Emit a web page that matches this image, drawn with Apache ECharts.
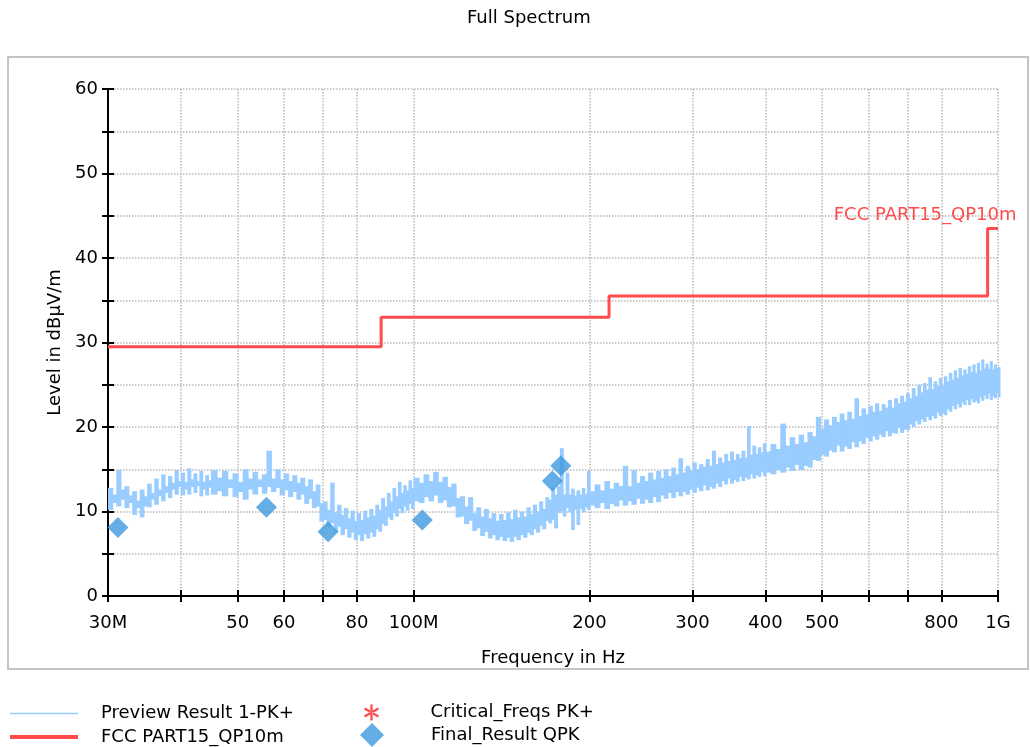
<!DOCTYPE html>
<html>
<head>
<meta charset="utf-8">
<script src="https://cdn.jsdelivr.net/npm/echarts@6/dist/echarts.min.js"></script>
<style>
  html, body { margin: 0; padding: 0; background: #ffffff; }
  #chart { width: 1030px; height: 747px; }
</style>
</head>
<body>
<div id="chart"></div>
<script>
// Peak preview scan: frequency (MHz) with the max / min level (dBµV/m) in each bin
const spectrumMHz = [
  30, 30.5, 31, 31.5, 32, 32.5, 33, 33.5, 34, 34.5, 35, 35.5, 36, 36.5, 37, 37.5, 38, 38.5, 39, 39.5,
  40, 40.5, 41, 41.5, 42, 42.5, 43, 43.5, 44, 44.5, 45,
  46, 47, 48, 49, 50, 51, 52, 53, 54, 55, 56, 57, 58, 59, 60, 61, 62, 63, 64, 65, 66, 67, 68, 69, 70,
  71, 72, 73, 74, 75, 76, 77, 78, 79, 80, 81, 82, 83, 84, 85, 86, 87, 88, 89, 90,
  91, 92, 93, 94, 95, 96, 97, 98, 99, 100,
  102, 104, 106, 108, 110, 112, 114, 116, 118, 120, 122, 124, 126, 128, 130, 132, 134, 136, 138, 140,
  142, 144, 146, 148, 150, 152, 154, 156, 158, 160, 162, 164, 166, 168, 170, 172, 174, 176, 178, 180,
  182, 184, 186, 188, 190, 192, 194, 196, 198, 200,
  204, 208, 212, 216, 220, 224, 228, 232, 236, 240, 244, 248, 252, 256, 260, 264, 268, 272, 276, 280,
  284, 288, 292, 296, 300, 304, 308, 312, 316, 320, 324, 328, 332, 336, 340, 344, 348, 352, 356, 360,
  364, 368, 372, 376, 380, 384, 388, 392, 396, 400,
  408, 416, 424, 432, 440, 448, 456, 464, 472, 480, 488, 496, 504, 512, 520, 528, 536, 544, 552, 560,
  568, 576, 584, 592, 600, 608, 616, 624, 632, 640, 648, 656, 664, 672, 680, 688, 696, 704, 712, 720,
  728, 736, 744, 752, 760, 768, 776, 784, 792, 800, 808, 816, 824, 832, 840, 848, 856, 864, 872, 880,
  888, 896, 904, 912, 920, 928, 936, 944, 952, 960, 968, 976, 984, 992, 1000
];
const spectrumMax = [
  12.8, 12.0, 14.9, 12.6, 13.0, 11.9, 12.4, 11.3, 12.6, 11.8, 13.3, 12.2, 13.9, 12.6, 14.4, 13.0, 14.2, 13.4, 14.9, 13.6,
  14.6, 13.5, 15.1, 13.8, 14.5, 13.6, 14.8, 13.5, 14.3, 13.7, 14.9,
  14.0, 14.8, 13.8, 14.5, 13.5, 15.0, 13.9, 14.7, 13.8, 14.4, 17.2, 13.9, 15.0, 13.8, 14.5, 13.6, 14.3, 13.4, 14.0, 13.0, 13.8, 12.4, 13.2, 11.0, 11.2,
  10.2, 13.4, 9.9, 10.8, 9.6, 10.4, 9.2, 10.1, 8.9, 9.8, 9.0, 10.1, 9.3, 10.3, 9.5, 10.8, 10.2, 11.6, 10.6, 12.2,
  11.2, 12.8, 11.8, 13.5, 12.2, 13.1, 12.5, 13.7, 12.8, 14.0,
  13.4, 14.4, 13.6, 14.7, 13.5, 14.1, 12.9, 13.3, 11.6, 11.8, 10.6, 11.7, 9.8, 10.5, 9.4, 10.3, 9.2, 9.8, 8.9, 9.7,
  9.0, 9.9, 9.1, 10.2, 9.3, 10.0, 9.4, 10.5, 9.7, 10.8, 10.0, 11.2, 10.3, 11.7, 11.4, 12.8, 12.0, 13.0, 17.5, 12.0,
  14.6, 12.0, 12.7, 11.9, 12.5, 12.0, 12.8, 12.1, 14.8, 12.4,
  13.2, 12.5, 13.6, 12.7, 13.4, 13.0, 15.4, 13.0, 14.9, 13.4, 14.2, 13.6, 14.6, 13.8, 14.8, 14.0, 15.0, 14.2, 15.2, 14.4,
  16.3, 14.6, 15.4, 14.8, 15.8, 15.0, 15.6, 15.3, 16.2, 15.4, 17.2, 15.6, 16.4, 15.8, 16.8, 16.0, 17.1, 16.1, 16.8, 16.3,
  17.2, 16.4, 20.1, 16.7, 17.8, 16.8, 17.6, 17.0, 18.1, 17.1,
  18.0, 17.4, 20.4, 17.8, 18.8, 18.0, 19.1, 18.2, 19.4, 18.9, 21.2, 19.8, 20.9, 20.2, 21.2, 20.6, 21.6, 20.8, 21.8, 21.0,
  23.4, 21.3, 22.2, 21.5, 22.5, 21.8, 22.8, 21.9, 22.7, 22.3, 23.2, 22.3, 23.4, 22.8, 23.7, 23.0, 24.0, 23.4, 24.6, 23.7,
  25.0, 24.1, 25.2, 24.4, 25.9, 24.5, 25.4, 24.9, 25.8, 24.9, 26.0, 25.4, 26.4, 25.6, 26.7, 25.8, 27.0, 26.1, 26.8, 26.3,
  27.2, 26.5, 27.4, 26.4, 27.6, 26.7, 28.0, 26.9, 27.5, 26.9, 27.8, 26.8, 27.4, 26.9, 27.1
];
const spectrumMin = [
  10.2, 11.0, 10.6, 11.4, 10.4, 11.0, 9.6, 10.4, 9.3, 10.6, 10.5, 11.4, 10.8, 11.8, 11.2, 12.2, 11.6, 12.6, 12.0, 12.9,
  11.9, 12.6, 12.0, 12.9, 12.2, 13.0, 11.8, 12.6, 11.9, 12.8, 12.0,
  12.4, 11.8, 12.8, 11.7, 12.3, 11.4, 12.6, 12.0, 12.9, 12.1, 12.9, 12.3, 12.8, 11.9, 12.5, 11.7, 12.3, 11.4, 12.0, 10.9, 11.5, 10.4, 10.6, 8.8, 9.0,
  8.2, 8.6, 7.6, 8.2, 7.2, 7.9, 6.9, 7.5, 6.6, 7.2, 6.5, 7.3, 6.8, 7.5, 7.0, 7.9, 7.6, 8.5, 8.3, 9.3,
  9.0, 9.8, 9.4, 10.3, 9.8, 10.6, 10.1, 10.9, 10.3, 11.2,
  11.0, 11.7, 11.2, 11.9, 11.0, 11.3, 10.5, 10.6, 9.3, 9.4, 8.5, 8.9, 7.7, 8.0, 7.1, 7.6, 6.8, 7.2, 6.6, 7.0,
  6.5, 6.9, 6.4, 7.0, 6.6, 7.2, 6.9, 7.5, 7.2, 7.9, 7.5, 8.3, 7.9, 8.9, 8.6, 9.0, 8.0, 9.8, 10.0, 9.4,
  10.4, 9.9, 7.8, 10.2, 8.4, 10.3, 9.9, 10.5, 10.2, 10.7,
  10.4, 11.0, 10.3, 10.9, 10.6, 11.3, 10.7, 11.2, 10.8, 11.5, 10.9, 11.4, 11.0, 11.7, 11.1, 11.9, 11.5, 12.2, 11.6, 12.3,
  11.8, 12.3, 12.0, 12.6, 12.2, 12.8, 12.4, 13.1, 12.5, 12.9, 12.7, 13.3, 12.9, 13.6, 13.2, 13.9, 13.3, 13.7, 13.5, 14.1,
  13.6, 14.0, 13.8, 14.4, 13.9, 14.3, 14.1, 14.7, 14.2, 14.6,
  14.4, 14.9, 14.6, 15.2, 14.8, 15.5, 14.9, 15.4, 15.2, 16.1, 16.0, 16.7, 16.5, 17.2, 17.0, 17.8, 17.1, 17.7, 17.4, 18.2,
  17.6, 18.3, 18.0, 18.7, 18.3, 18.9, 18.5, 19.1, 18.8, 19.5, 18.9, 19.3, 19.2, 19.9, 19.3, 19.7, 19.6, 20.3, 20.0, 20.7,
  20.3, 20.9, 20.6, 21.2, 20.8, 21.3, 21.0, 21.7, 21.3, 21.6, 21.4, 22.1, 21.8, 22.5, 22.1, 22.7, 22.3, 22.9, 22.6, 23.2,
  22.6, 23.3, 22.9, 23.1, 22.8, 23.5, 23.1, 23.7, 23.3, 23.9, 23.2, 23.6, 23.4, 24.1, 23.5
];

// Quasi-peak limit line (step function)
const limitName = 'FCC PART15_QP10m';
const limitMHz = [30, 88, 88, 216, 216, 960, 960, 1000];
const limitLevel = [29.5, 29.5, 33.0, 33.0, 35.5, 35.5, 43.5, 43.5];

// Final quasi-peak measurements
const finalMHz = [31.2, 56.0, 71.4, 103.5, 172.8, 178.6];
const finalLevel = [8.1, 10.5, 7.6, 9.0, 13.6, 15.4];

// Critical frequencies (none recorded)
const criticalMHz = [];
const criticalLevel = [];

// Axis ticks and labels
const xTickMHz = [30, 40, 50, 60, 70, 80, 100, 200, 300, 400, 500, 600, 700, 800, 1000];
const xLabelMHz = [30, 50, 60, 80, 100, 200, 300, 400, 500, 800, 1000];
const xLabelText = { 30: '30M', 100: '100M', 1000: '1G' };
const yLabelStep = 10;

const FONT = 'DejaVu Sans';
const FS = 18;
const BLUE_TRACE = '#99ccff';
const RED_LIMIT = '#ff4b4b';
const BLUE_FINAL = '#3d99df';

const zip = (xs, ys) => xs.map((x, i) => [x, ys[i]]);

// One bin per sample: [freq, max, min, next freq]
const spectrumBins = spectrumMHz.map((f, i) => [
  f, spectrumMax[i], spectrumMin[i], spectrumMHz[Math.min(i + 1, spectrumMHz.length - 1)]
]);

const asteriskPath = 'path://M-1,-7L1,-7L1,7L-1,7Z' +
  'M5.56,4.37L6.56,2.63L-5.56,-4.37L-6.56,-2.63Z' +
  'M-5.56,4.37L-6.56,2.63L5.56,-4.37L6.56,-2.63Z';
const diamondPath = 'path://M0,-1L1,0L0,1L-1,0Z';

const gridLine = { show: true, lineStyle: { type: 'dotted', color: '#b8b8b8', width: 1.5 } };
const axisBlack = { show: true, onZero: false, lineStyle: { color: '#000', width: 2 } };
const tickBlack = { color: '#000', width: 2 };
const legendText = (padLeft) => ({ fontFamily: FONT, fontSize: FS, color: '#000', padding: [0, 0, 0, padLeft] });

const xBase = { type: 'log', logBase: 10, min: 30, max: 1000, gridIndex: 0 };
const yBase = { type: 'value', min: 0, max: 60, interval: 5, gridIndex: 0 };

const chart = echarts.init(document.getElementById('chart'), null, { renderer: 'canvas' });

chart.setOption({
  animation: false,
  backgroundColor: '#ffffff',
  textStyle: { fontFamily: FONT },
  title: {
    text: 'Full Spectrum',
    left: 462, top: 4,
    textStyle: { fontFamily: FONT, fontSize: FS, fontWeight: 'normal', color: '#000' }
  },
  graphic: [{
    type: 'rect', z: -1,
    shape: { x: 8, y: 57, width: 1020, height: 612 },
    style: { fill: 'none', stroke: '#c4c4c4', lineWidth: 2 }
  }],
  grid: { left: 108, right: 32, top: 89, bottom: 151, containLabel: false },
  xAxis: [
    Object.assign({}, xBase, {
      position: 'bottom',
      name: 'Frequency in Hz', nameLocation: 'middle', nameGap: 53,
      nameTextStyle: { fontFamily: FONT, fontSize: FS, color: '#000' },
      axisLine: axisBlack,
      axisTick: { show: true, customValues: xTickMHz, length: 6, lineStyle: tickBlack },
      axisLabel: {
        customValues: xLabelMHz, margin: 18, fontFamily: FONT, fontSize: FS, color: '#000',
        formatter: v => xLabelText[Math.round(v)] || String(Math.round(v))
      },
      splitLine: gridLine,
      minorTick: { show: false }, minorSplitLine: { show: false }
    }),
    Object.assign({}, xBase, {
      position: 'bottom',
      axisLine: { show: false },
      axisTick: { show: true, inside: true, customValues: xTickMHz, length: 6, lineStyle: tickBlack },
      axisLabel: { show: false },
      splitLine: { show: false }
    })
  ],
  yAxis: [
    Object.assign({}, yBase, {
      position: 'left',
      name: 'Level in dBµV/m', nameLocation: 'middle', nameGap: 38,
      nameTextStyle: { fontFamily: FONT, fontSize: FS, color: '#000' },
      axisLine: axisBlack,
      axisTick: { show: true, length: 6, lineStyle: tickBlack },
      axisLabel: {
        margin: 10, fontFamily: FONT, fontSize: FS, color: '#000',
        formatter: v => (v % yLabelStep === 0 ? String(v) : '')
      },
      splitLine: gridLine
    }),
    Object.assign({}, yBase, {
      position: 'left',
      axisLine: { show: false },
      axisTick: { show: true, inside: true, length: 6, lineStyle: tickBlack },
      axisLabel: { show: false },
      splitLine: { show: false }
    })
  ],
  legend: [
    {
      left: 10, top: 704.5, padding: 0, itemWidth: 68, itemHeight: 19,
      textStyle: legendText(18),
      data: [{ name: 'Preview Result 1-PK+', icon: 'path://M0,0H68V1.6H0Z' }]
    },
    {
      left: 10, top: 728, padding: 0, itemWidth: 68, itemHeight: 19,
      textStyle: legendText(18),
      data: [{ name: limitName, icon: 'path://M0,0H68V4H0Z' }]
    },
    {
      left: 364, top: 703.5, padding: 0, itemWidth: 16, itemHeight: 16,
      textStyle: legendText(46),
      data: [{ name: 'Critical_Freqs PK+', icon: asteriskPath }]
    },
    {
      left: 360, top: 723, padding: 0, itemWidth: 24, itemHeight: 24,
      textStyle: legendText(42),
      data: [{ name: 'Final_Result QPK', icon: diamondPath }]
    }
  ],
  series: [
    {
      name: 'Preview Result 1-PK+',
      type: 'custom', xAxisIndex: 0, yAxisIndex: 0,
      data: spectrumBins,
      encode: { x: [0, 3], y: [1, 2] },
      itemStyle: { color: BLUE_TRACE },
      z: 2,
      renderItem: (params, api) => {
        const top = api.coord([api.value(0), api.value(1)]);
        const bottom = api.coord([api.value(3), api.value(2)]);
        const w = Math.max(bottom[0] - top[0], 1.5);
        return {
          type: 'rect',
          shape: { x: top[0], y: top[1], width: w + 1, height: bottom[1] - top[1] },
          style: { fill: BLUE_TRACE }
        };
      }
    },
    {
      name: limitName,
      type: 'line', xAxisIndex: 0, yAxisIndex: 0,
      data: zip(limitMHz, limitLevel),
      symbol: 'none', z: 3,
      color: RED_LIMIT,
      lineStyle: { color: RED_LIMIT, width: 3 },
      markPoint: {
        symbol: 'circle', symbolSize: 1,
        itemStyle: { color: 'rgba(0,0,0,0)' },
        label: {
          show: true, position: 'left', distance: 0, offset: [19, -13],
          formatter: limitName, color: RED_LIMIT, fontFamily: FONT, fontSize: FS
        },
        data: [{ coord: [limitMHz[limitMHz.length - 1], limitLevel[limitLevel.length - 1]] }]
      }
    },
    {
      name: 'Critical_Freqs PK+',
      type: 'scatter', xAxisIndex: 0, yAxisIndex: 0,
      data: zip(criticalMHz, criticalLevel),
      symbol: asteriskPath, symbolSize: 14,
      color: '#ff1a1a'
    },
    {
      name: 'Final_Result QPK',
      type: 'scatter', xAxisIndex: 0, yAxisIndex: 0,
      data: zip(finalMHz, finalLevel),
      symbol: 'diamond', symbolSize: 21, z: 5,
      color: BLUE_FINAL
    }
  ]
});
</script>
</body>
</html>
